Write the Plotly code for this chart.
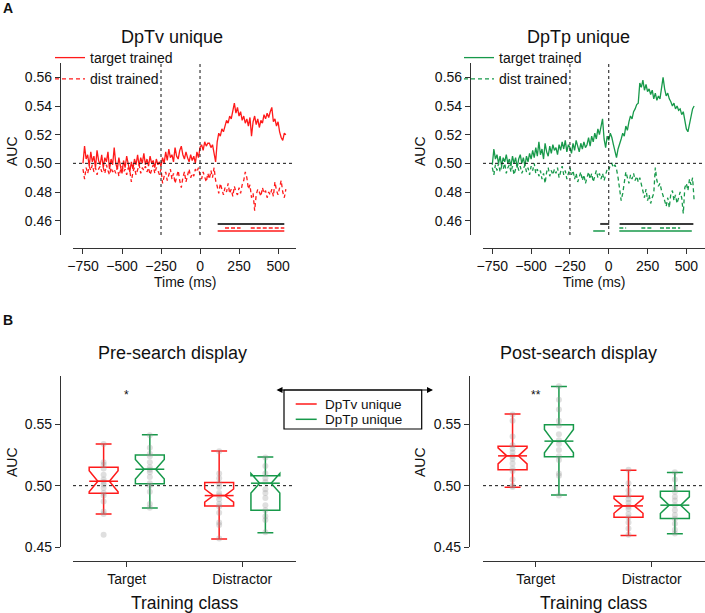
import plotly.graph_objects as go

W, H = 705, 613

# ---------------- Panel A data (AUC time courses) ----------------
time_ms = list(range(-750, 551, 10))

dptv_target = [
    0.500, 0.512, 0.503, 0.506, 0.498, 0.508, 0.501, 0.505, 0.497, 0.509, 0.502,
    0.499, 0.506, 0.497, 0.504, 0.501, 0.508, 0.496, 0.503, 0.499, 0.511,
    0.500, 0.496, 0.504, 0.498, 0.493, 0.502, 0.497, 0.505, 0.499, 0.494,
    0.501, 0.496, 0.503, 0.499, 0.506, 0.498, 0.504, 0.500, 0.507, 0.499,
    0.503, 0.498, 0.505, 0.500, 0.502, 0.497, 0.503, 0.499, 0.501, 0.498,
    0.504, 0.500, 0.508, 0.502, 0.510, 0.504, 0.506, 0.501, 0.511, 0.505,
    0.503, 0.509, 0.512, 0.506, 0.503, 0.508, 0.504, 0.501, 0.506, 0.502,
    0.505, 0.500, 0.508, 0.504, 0.511, 0.513, 0.509, 0.515, 0.512, 0.514,
    0.514, 0.511, 0.513, 0.506, 0.501, 0.515, 0.521, 0.519, 0.524, 0.522,
    0.527, 0.530, 0.528, 0.533, 0.531, 0.537, 0.542, 0.535, 0.539, 0.533,
    0.536, 0.530, 0.533, 0.528, 0.531, 0.526, 0.532, 0.519, 0.529, 0.533,
    0.527, 0.531, 0.525, 0.530, 0.528, 0.534, 0.531, 0.535, 0.532, 0.536,
    0.539, 0.529, 0.531, 0.526, 0.529, 0.522, 0.518, 0.516, 0.521, 0.520,
]
dptv_dist = [
    0.496, 0.489, 0.497, 0.493, 0.498, 0.495, 0.499, 0.494, 0.497, 0.492, 0.496,
    0.498, 0.494, 0.497, 0.493, 0.499, 0.495, 0.492, 0.497, 0.494, 0.496,
    0.493, 0.497, 0.491, 0.495, 0.498, 0.494, 0.496, 0.492, 0.497, 0.495,
    0.487, 0.494, 0.497, 0.492, 0.496, 0.499, 0.493, 0.497, 0.495, 0.498,
    0.494, 0.497, 0.492, 0.496, 0.499, 0.493, 0.497, 0.495, 0.492, 0.496,
    0.486, 0.491, 0.494, 0.488, 0.492, 0.496, 0.489, 0.493, 0.486, 0.491,
    0.495, 0.488, 0.483, 0.490, 0.494, 0.487, 0.492, 0.496, 0.490, 0.493,
    0.491, 0.496, 0.494, 0.497, 0.492, 0.489, 0.494, 0.491, 0.487, 0.493,
    0.489, 0.495, 0.490, 0.497, 0.488, 0.484, 0.479, 0.486, 0.481, 0.478,
    0.483, 0.480, 0.486, 0.479, 0.482, 0.477, 0.484, 0.480, 0.478, 0.483,
    0.479, 0.485, 0.488, 0.494, 0.490, 0.482, 0.485, 0.476, 0.479, 0.467,
    0.478, 0.482, 0.480, 0.477, 0.483, 0.479, 0.481, 0.476, 0.480, 0.478,
    0.482, 0.477, 0.487, 0.481, 0.478, 0.484, 0.488, 0.480, 0.476, 0.482,
]
dptp_target = [
    0.499, 0.510, 0.503, 0.506, 0.500, 0.505, 0.498, 0.504, 0.501, 0.506, 0.500,
    0.503, 0.498, 0.505, 0.500, 0.504, 0.497, 0.503, 0.506, 0.500, 0.504,
    0.498, 0.505, 0.501, 0.507, 0.503, 0.509, 0.504, 0.511, 0.505, 0.515,
    0.506, 0.510, 0.503, 0.514, 0.508, 0.505, 0.512, 0.507, 0.513, 0.509,
    0.511, 0.506, 0.513, 0.509, 0.515, 0.510, 0.516, 0.508, 0.513, 0.511,
    0.507, 0.514, 0.509, 0.516, 0.512, 0.508, 0.514, 0.510, 0.515, 0.511,
    0.513, 0.518, 0.512, 0.519, 0.515, 0.521, 0.517, 0.524, 0.520, 0.527,
    0.531, 0.517, 0.511, 0.519, 0.516, 0.521, 0.518, 0.513, 0.509, 0.504,
    0.510, 0.513, 0.517, 0.521, 0.519, 0.526, 0.523, 0.529, 0.533, 0.531,
    0.536, 0.538, 0.541, 0.542, 0.556, 0.553, 0.558, 0.551, 0.555, 0.550,
    0.552, 0.548, 0.551, 0.545, 0.549, 0.544, 0.547, 0.545, 0.553, 0.560,
    0.552, 0.547, 0.549, 0.545, 0.543, 0.540, 0.542, 0.538, 0.540, 0.537,
    0.538, 0.534, 0.536, 0.529, 0.524, 0.522, 0.528, 0.533, 0.538, 0.540,
]
dptp_dist = [
    0.497, 0.492, 0.499, 0.495, 0.500, 0.494, 0.498, 0.496, 0.500, 0.493, 0.497,
    0.499, 0.494, 0.498, 0.492, 0.497, 0.500, 0.495, 0.498, 0.493, 0.496,
    0.499, 0.494, 0.497, 0.492, 0.498, 0.495, 0.500, 0.493, 0.496, 0.491,
    0.495, 0.489, 0.493, 0.486, 0.494, 0.497, 0.491, 0.495, 0.492, 0.496,
    0.493, 0.497, 0.490, 0.494, 0.498, 0.492, 0.495, 0.489, 0.494, 0.497,
    0.492, 0.495, 0.489, 0.493, 0.487, 0.491, 0.494, 0.488, 0.492, 0.486,
    0.491, 0.494, 0.489, 0.493, 0.487, 0.492, 0.495, 0.490, 0.493, 0.489,
    0.493, 0.488, 0.492, 0.496, 0.495, 0.499, 0.500, 0.497, 0.499, 0.496,
    0.490, 0.482, 0.474, 0.479, 0.488, 0.494, 0.490, 0.486, 0.492, 0.489,
    0.493, 0.488, 0.491, 0.487, 0.490, 0.486, 0.480, 0.476, 0.482, 0.474,
    0.478, 0.472, 0.476, 0.479, 0.497, 0.488, 0.484, 0.486, 0.481, 0.478,
    0.474, 0.470, 0.476, 0.469, 0.479, 0.481, 0.474, 0.478, 0.472, 0.476,
    0.480, 0.476, 0.465, 0.483, 0.486, 0.481, 0.489, 0.485, 0.490, 0.474,
]
for s in (dptv_target, dptv_dist, dptp_target, dptp_dist):
    assert len(s) == len(time_ms)

# significant time windows (ms)
dptv_sig_diff = [[113, 540]]
dptv_sig_dist = [[160, 260], [325, 540]]
dptv_sig_target = [[113, 540]]
dptp_sig_diff = [[-55, 3], [70, 545]]
dptp_sig_dist = [[68, 112], [210, 275], [330, 460]]
dptp_sig_target = [[-100, -25], [68, 535]]

time_ticks = [-750, -500, -250, 0, 250, 500]
auc_ticks_a = [0.46, 0.48, 0.50, 0.52, 0.54, 0.56]
auc_ticks_b = [0.45, 0.50, 0.55]
event_times = [-250, 0]
chance = 0.5

# ---------------- Panel B data (box summaries) ----------------
categories = ["Target", "Distractor"]
series_names = ["DpTv unique", "DpTp unique"]

pre_dptv_lower = [0.4769, 0.4566]
pre_dptv_q1 = [0.4938, 0.4835]
pre_dptv_median = [0.5036, 0.4919]
pre_dptv_q3 = [0.5150, 0.5025]
pre_dptv_upper = [0.5340, 0.5283]
pre_dptv_notch = [0.0085, 0.0054]

pre_dptp_lower = [0.4818, 0.4617]
pre_dptp_q1 = [0.5016, 0.4800]
pre_dptp_median = [0.5134, 0.5020]
pre_dptp_q3 = [0.5250, 0.5080]
pre_dptp_upper = [0.5416, 0.5234]
pre_dptp_notch = [0.0080, 0.0080]

post_dptv_lower = [0.4988, 0.4594]
post_dptv_q1 = [0.5129, 0.4743]
post_dptv_median = [0.5243, 0.4835]
post_dptv_q3 = [0.5322, 0.4914]
post_dptv_upper = [0.5585, 0.5126]
post_dptv_notch = [0.0065, 0.0060]

post_dptp_lower = [0.4923, 0.4607]
post_dptp_q1 = [0.5235, 0.4733]
post_dptp_median = [0.5363, 0.4841]
post_dptp_q3 = [0.5496, 0.4955]
post_dptp_upper = [0.5808, 0.5107]
post_dptp_notch = [0.0095, 0.0068]

pre_dptv_points = [
    [0.534, 0.519, 0.517, 0.514, 0.509, 0.505, 0.503, 0.501, 0.498, 0.494, 0.492, 0.487, 0.479, 0.477, 0.460],
    [0.528, 0.510, 0.506, 0.502, 0.499, 0.494, 0.492, 0.489, 0.485, 0.483, 0.478, 0.470, 0.468, 0.457],
]
pre_dptp_points = [
    [0.541, 0.531, 0.526, 0.524, 0.519, 0.515, 0.513, 0.511, 0.507, 0.502, 0.500, 0.495, 0.485, 0.482],
    [0.523, 0.516, 0.510, 0.506, 0.503, 0.497, 0.494, 0.490, 0.484, 0.480, 0.475, 0.472, 0.462],
]
post_dptv_points = [
    [0.558, 0.553, 0.540, 0.533, 0.530, 0.527, 0.524, 0.522, 0.518, 0.514, 0.512, 0.505, 0.500, 0.499],
    [0.513, 0.502, 0.496, 0.492, 0.489, 0.486, 0.483, 0.481, 0.477, 0.474, 0.470, 0.465, 0.460],
]
post_dptp_points = [
    [0.581, 0.570, 0.562, 0.553, 0.549, 0.542, 0.537, 0.534, 0.529, 0.524, 0.521, 0.510, 0.508, 0.492],
    [0.511, 0.505, 0.498, 0.495, 0.491, 0.488, 0.484, 0.480, 0.476, 0.473, 0.469, 0.464, 0.461],
]
pre_sig_label = "*"
post_sig_label = "**"
sig_star_y = 0.574

# ---------------- styling ----------------
RED = "#ff1a1a"
GREEN = "#17994a"
DARK = "#3a3a3a"
SPINE = "#333333"
FONT = "Liberation Sans, Arial, sans-serif"
HUE_OFFSET = 0.2
BOX_W = 0.25
NOTCH_W = 0.3
SIG_Y = {"diff": 0.4577, "dist": 0.4548, "target": 0.4528}


def px_x(p):
    return p / W


def px_y(p):
    return 1 - p / H


def segments(segs, level):
    xs, ys = [], []
    for a, b in segs:
        xs += [a, b, None]
        ys += [level, level, None]
    return xs, ys


fig = go.Figure()

# ---- Panel A traces ----
panelA = [
    ("x", "y", "legend", RED, dptv_target, dptv_dist, dptv_sig_diff, dptv_sig_dist, dptv_sig_target),
    ("x2", "y2", "legend2", GREEN, dptp_target, dptp_dist, dptp_sig_diff, dptp_sig_dist, dptp_sig_target),
]
for xa, ya, lg, col, tgt, dst, sdiff, sdist, stgt in panelA:
    fig.add_trace(go.Scatter(x=time_ms, y=tgt, mode="lines", name="target trained",
                             line=dict(color=col, width=1.3), xaxis=xa, yaxis=ya, legend=lg))
    fig.add_trace(go.Scatter(x=time_ms, y=dst, mode="lines", name="dist trained",
                             line=dict(color=col, width=1.3, dash="4px,3px"), xaxis=xa, yaxis=ya, legend=lg))
    sx, sy = segments(sdiff, SIG_Y["diff"])
    fig.add_trace(go.Scatter(x=sx, y=sy, mode="lines", line=dict(color=DARK, width=2),
                             xaxis=xa, yaxis=ya, showlegend=False, hoverinfo="skip"))
    sx, sy = segments(sdist, SIG_Y["dist"])
    fig.add_trace(go.Scatter(x=sx, y=sy, mode="lines", line=dict(color=col, width=1.5, dash="4px,2px"),
                             xaxis=xa, yaxis=ya, showlegend=False, hoverinfo="skip"))
    sx, sy = segments(stgt, SIG_Y["target"])
    fig.add_trace(go.Scatter(x=sx, y=sy, mode="lines", line=dict(color=col, width=1.5),
                             xaxis=xa, yaxis=ya, showlegend=False, hoverinfo="skip"))

# ---- Panel B traces ----
cat_idx = list(range(len(categories)))
panelB = [
    ("x3", "y3",
     [(RED, -HUE_OFFSET, pre_dptv_lower, pre_dptv_q1, pre_dptv_median, pre_dptv_q3, pre_dptv_upper, pre_dptv_notch, pre_dptv_points),
      (GREEN, HUE_OFFSET, pre_dptp_lower, pre_dptp_q1, pre_dptp_median, pre_dptp_q3, pre_dptp_upper, pre_dptp_notch, pre_dptp_points)]),
    ("x4", "y4",
     [(RED, -HUE_OFFSET, post_dptv_lower, post_dptv_q1, post_dptv_median, post_dptv_q3, post_dptv_upper, post_dptv_notch, post_dptv_points),
      (GREEN, HUE_OFFSET, post_dptp_lower, post_dptp_q1, post_dptp_median, post_dptp_q3, post_dptp_upper, post_dptp_notch, post_dptp_points)]),
]
for xa, ya, series in panelB:
    for col, off, lo, q1, med, q3, hi, notch, pts in series:
        pos = [c + off for c in cat_idx]
        px, py = [], []
        for p, vals in zip(pos, pts):
            px += [p] * len(vals)
            py += vals
        fig.add_trace(go.Scatter(x=px, y=py, mode="markers",
                                 marker=dict(color="rgba(150,150,150,0.3)", size=6),
                                 xaxis=xa, yaxis=ya, showlegend=False, hoverinfo="skip"))
        fig.add_trace(go.Box(x=pos, q1=q1, median=med, q3=q3, lowerfence=lo, upperfence=hi,
                             notchspan=notch, notched=True, notchwidth=NOTCH_W, width=BOX_W,
                             whiskerwidth=0.55, boxpoints=False,
                             line=dict(color=col, width=1.5), fillcolor="rgba(0,0,0,0)",
                             xaxis=xa, yaxis=ya, showlegend=False, hoverinfo="skip"))
        mx, my = [], []
        for p, m in zip(pos, med):
            mx += [p - BOX_W / 2, p + BOX_W / 2, None]
            my += [m, m, None]
        fig.add_trace(go.Scatter(x=mx, y=my, mode="lines",
                                 line=dict(color=col, width=1.5),
                                 xaxis=xa, yaxis=ya, showlegend=False, hoverinfo="skip"))

# ---- axes ----
common = dict(showline=True, linecolor=SPINE, linewidth=1.2, ticks="outside", ticklen=5,
              tickwidth=1.1, tickcolor=SPINE, showgrid=False, zeroline=False,
              tickfont=dict(family=FONT, size=14, color="#111"), automargin=False)

time_text = [str(t).replace("-", "\u2212") for t in time_ticks]
colA = [(73, 296, 60, [-814, 615]), (483, 705, 470, [-810, 620])]
colB = [(73, 296, 60, [-0.465, 1.465]), (483, 705, 469, [-0.455, 1.46])]

layout = dict(
    width=W, height=H, autosize=False,
    margin=dict(l=0, r=0, t=0, b=0),
    paper_bgcolor="white", plot_bgcolor="white",
    font=dict(family=FONT, color="#111"),
    boxmode="overlay",
)
for i, (l, r, yl, xr) in enumerate(colA):
    xk = "xaxis" if i == 0 else "xaxis2"
    yk = "yaxis" if i == 0 else "yaxis2"
    layout[xk] = dict(common, domain=[px_x(l), min(1, px_x(r))], anchor="free", position=px_y(248.3),
                      range=xr, tickvals=time_ticks, ticktext=time_text)
    layout[yk] = dict(common, domain=[px_y(235), px_y(63)], anchor="free", position=px_x(yl),
                      range=[0.45, 0.57], tickvals=auc_ticks_a, tickformat=".2f")
for i, (l, r, yl, xr) in enumerate(colB):
    xk = "xaxis3" if i == 0 else "xaxis4"
    yk = "yaxis3" if i == 0 else "yaxis4"
    layout[xk] = dict(common, domain=[px_x(l), min(1, px_x(r))], anchor="free", position=px_y(560.7),
                      range=xr, tickvals=cat_idx, ticktext=categories)
    layout[yk] = dict(common, domain=[px_y(547), px_y(376)], anchor="free", position=px_x(yl),
                      range=[0.45, 0.5894], tickvals=auc_ticks_b, tickformat=".2f")

layout["legend"] = dict(x=px_x(50), y=px_y(42), xanchor="left", yanchor="top",
                        bgcolor="rgba(0,0,0,0)", font=dict(size=14, family=FONT), tracegroupgap=0)
layout["legend2"] = dict(x=px_x(459), y=px_y(42), xanchor="left", yanchor="top",
                         bgcolor="rgba(0,0,0,0)", font=dict(size=14, family=FONT), tracegroupgap=0)
fig.update_layout(**layout)

# ---- reference lines ----
shapes = []
for xa, ya in (("x", "y"), ("x2", "y2")):
    shapes.append(dict(type="line", xref=xa + " domain", yref=ya, x0=0, x1=0.99, y0=chance, y1=chance,
                       line=dict(color="#111", width=1, dash="3px,3px")))
    for t in event_times:
        shapes.append(dict(type="line", xref=xa, yref=ya + " domain", x0=t, x1=t, y0=0, y1=1,
                           line=dict(color="#111", width=1, dash="3px,3px")))
for xa, ya in (("x3", "y3"), ("x4", "y4")):
    shapes.append(dict(type="line", xref=xa + " domain", yref=ya, x0=0, x1=0.99, y0=chance, y1=chance,
                       line=dict(color="#111", width=1, dash="3px,3px"), layer="below"))

# ---- panel B shared legend (framed key) ----
LEG_L, LEG_R, LEG_T, LEG_B = 284, 421.7, 390, 429
shapes.append(dict(type="rect", xref="paper", yref="paper",
                   x0=px_x(LEG_L), x1=px_x(LEG_R), y0=px_y(LEG_B), y1=px_y(LEG_T),
                   line=dict(color="#000", width=1.2), fillcolor="white"))
leg_rows = [404, 419.3]
for name, col, ry in zip(series_names, [RED, GREEN], leg_rows):
    shapes.append(dict(type="line", xref="paper", yref="paper",
                       x0=px_x(295.7), x1=px_x(316.7), y0=px_y(ry), y1=px_y(ry),
                       line=dict(color=col, width=1.5)))
    fig.add_annotation(text=name, x=px_x(323), y=px_y(ry), xref="paper", yref="paper",
                       showarrow=False, xanchor="left", yanchor="middle",
                       font=dict(family=FONT, size=13.5, color="#111"))
fig.update_layout(shapes=shapes)

# ---- text ----
def ann(text, x, y, size, **kw):
    d = dict(text=text, x=x, y=y, xref="paper", yref="paper", showarrow=False,
             font=dict(family=FONT, size=size, color="#111"), xanchor="center", yanchor="middle")
    d.update(kw)
    fig.add_annotation(**d)

ann("<b>A</b>", px_x(8), px_y(8), 14)
ann("<b>B</b>", px_x(8), px_y(320), 14)
ann("DpTv unique", px_x(171.5), px_y(37), 18)
ann("DpTp unique", px_x(578), px_y(37), 18)
ann("Time (ms)", px_x(185), px_y(282), 14)
ann("Time (ms)", px_x(594), px_y(282), 14)
ann("AUC", px_x(12), px_y(151), 14, textangle=-90)
ann("AUC", px_x(420), px_y(151), 14, textangle=-90)
ann("Pre-search display", px_x(172), px_y(353), 18)
ann("Post-search display", px_x(578), px_y(353), 18)
ann("AUC", px_x(12), px_y(462), 14, textangle=-90)
ann("AUC", px_x(420), px_y(462), 14, textangle=-90)
ann("Training class", px_x(185), px_y(603), 17.5)
ann("Training class", px_x(594), px_y(603), 17.5)

fig.add_annotation(text=pre_sig_label, x=cat_idx[0], y=sig_star_y, xref="x3", yref="y3",
                   showarrow=False, font=dict(family=FONT, size=12, color="#111"))
fig.add_annotation(text=post_sig_label, x=cat_idx[0], y=sig_star_y, xref="x4", yref="y4",
                   showarrow=False, font=dict(family=FONT, size=12, color="#111"))

# double-headed arrow on top of the legend box (tail offset in pixels)
fig.add_annotation(x=px_x(433), y=px_y(390), ax=-(433 - 275), ay=0,
                   xref="paper", yref="paper", axref="pixel", ayref="pixel",
                   text="", showarrow=True, arrowhead=2, arrowside="end+start",
                   arrowsize=1, arrowwidth=1.2, arrowcolor="#000", standoff=0, startstandoff=0)

fig.write_html("out.html", config={"displayModeBar": False},
               post_script="document.body.style.margin='0px';")
